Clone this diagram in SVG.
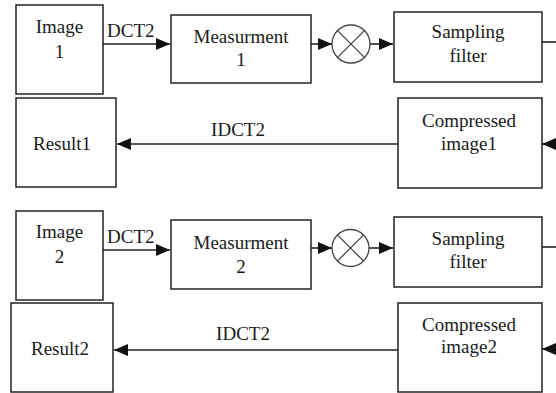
<svg xmlns="http://www.w3.org/2000/svg" width="556" height="393" viewBox="0 0 556 393">
<style>
.box{fill:#fff;stroke:#222;stroke-width:1.5}
.t{font-size:19px;fill:#1a1a1a;text-anchor:middle}
.l{font-size:19px;fill:#1a1a1a}
.c{fill:none;stroke:#222;stroke-width:1.6}
.a{fill:none;stroke:#222;stroke-width:1.6}
.mul{fill:#fff;stroke:#444;stroke-width:1.3}
</style>
<defs>
<marker id="ah" markerUnits="userSpaceOnUse" markerWidth="15" markerHeight="12" refX="14" refY="6" orient="auto">
<path d="M0,0 L14,6 L0,12 Z" fill="#111"/>
</marker>
</defs>
<rect width="556" height="393" fill="#fff"/>

<g id="connectors">
<line class="a" x1="103" y1="44" x2="170" y2="44" marker-end="url(#ah)"/>
<line class="a" x1="311" y1="44" x2="332" y2="44" marker-end="url(#ah)"/>
<line class="a" x1="370" y1="44" x2="393" y2="44" marker-end="url(#ah)"/>
<line class="c" x1="542" y1="42" x2="556" y2="42"/>
<line class="a" x1="556" y1="144" x2="542" y2="144" marker-end="url(#ah)"/>
<line class="a" x1="398" y1="144" x2="117" y2="144" marker-end="url(#ah)"/>
<text class="l" x="107" y="37" style="font-family:'Liberation Serif',serif">DCT2</text>
<text class="t" x="238" y="136" style="font-family:'Liberation Serif',serif">IDCT2</text>

<line class="a" x1="103" y1="250" x2="170" y2="250" marker-end="url(#ah)"/>
<line class="a" x1="311" y1="248" x2="332" y2="248" marker-end="url(#ah)"/>
<line class="a" x1="369" y1="248" x2="393" y2="248" marker-end="url(#ah)"/>
<line class="c" x1="542" y1="247" x2="556" y2="247"/>
<line class="a" x1="556" y1="349" x2="542" y2="349" marker-end="url(#ah)"/>
<line class="a" x1="398" y1="350" x2="114" y2="350" marker-end="url(#ah)"/>
<text class="l" x="107" y="243" style="font-family:'Liberation Serif',serif">DCT2</text>
<text class="t" x="243" y="340" style="font-family:'Liberation Serif',serif">IDCT2</text>
</g>

<g id="image1">
<rect class="box" x="16" y="5" width="87" height="89"/>
<text class="t" x="59.5" y="33" style="font-family:'Liberation Serif',serif">Image</text>
<text class="t" x="59.5" y="58" style="font-family:'Liberation Serif',serif">1</text>
</g>
<g id="measurment1">
<rect class="box" x="171" y="15" width="140" height="68"/>
<text class="t" x="241" y="43" style="font-family:'Liberation Serif',serif">Measurment</text>
<text class="t" x="241" y="66" style="font-family:'Liberation Serif',serif">1</text>
</g>
<g id="mult1">
<circle class="mul" cx="351" cy="44" r="19"/>
<line class="mul" x1="337.6" y1="30.6" x2="364.4" y2="57.4"/>
<line class="mul" x1="364.4" y1="30.6" x2="337.6" y2="57.4"/>
</g>
<g id="sampling1">
<rect class="box" x="394" y="12" width="148" height="70"/>
<text class="t" x="468" y="38" style="font-family:'Liberation Serif',serif">Sampling</text>
<text class="t" x="468" y="62" style="font-family:'Liberation Serif',serif">filter</text>
</g>
<g id="compressed1">
<rect class="box" x="398" y="98" width="144" height="90"/>
<text class="t" x="469" y="127" style="font-family:'Liberation Serif',serif">Compressed</text>
<text class="t" x="469" y="150" style="font-family:'Liberation Serif',serif">image1</text>
</g>
<g id="result1">
<rect class="box" x="16" y="98" width="100" height="89"/>
<text class="t" x="62" y="150" style="font-family:'Liberation Serif',serif">Result1</text>
</g>

<g id="image2">
<rect class="box" x="16" y="211" width="87" height="89"/>
<text class="t" x="59.5" y="238" style="font-family:'Liberation Serif',serif">Image</text>
<text class="t" x="59.5" y="263" style="font-family:'Liberation Serif',serif">2</text>
</g>
<g id="measurment2">
<rect class="box" x="171" y="220" width="140" height="69"/>
<text class="t" x="241" y="249" style="font-family:'Liberation Serif',serif">Measurment</text>
<text class="t" x="241" y="273" style="font-family:'Liberation Serif',serif">2</text>
</g>
<g id="mult2">
<circle class="mul" cx="350.5" cy="248" r="18.5"/>
<line class="mul" x1="337.4" y1="234.9" x2="363.6" y2="261.1"/>
<line class="mul" x1="363.6" y1="234.9" x2="337.4" y2="261.1"/>
</g>
<g id="sampling2">
<rect class="box" x="394" y="217" width="148" height="70"/>
<text class="t" x="468" y="245" style="font-family:'Liberation Serif',serif">Sampling</text>
<text class="t" x="468" y="268" style="font-family:'Liberation Serif',serif">filter</text>
</g>
<g id="compressed2">
<rect class="box" x="398" y="303" width="144" height="89"/>
<text class="t" x="469" y="331" style="font-family:'Liberation Serif',serif">Compressed</text>
<text class="t" x="469" y="353" style="font-family:'Liberation Serif',serif">image2</text>
</g>
<g id="result2">
<rect class="box" x="11" y="303" width="102" height="89"/>
<text class="t" x="60" y="355" style="font-family:'Liberation Serif',serif">Result2</text>
</g>
</svg>
